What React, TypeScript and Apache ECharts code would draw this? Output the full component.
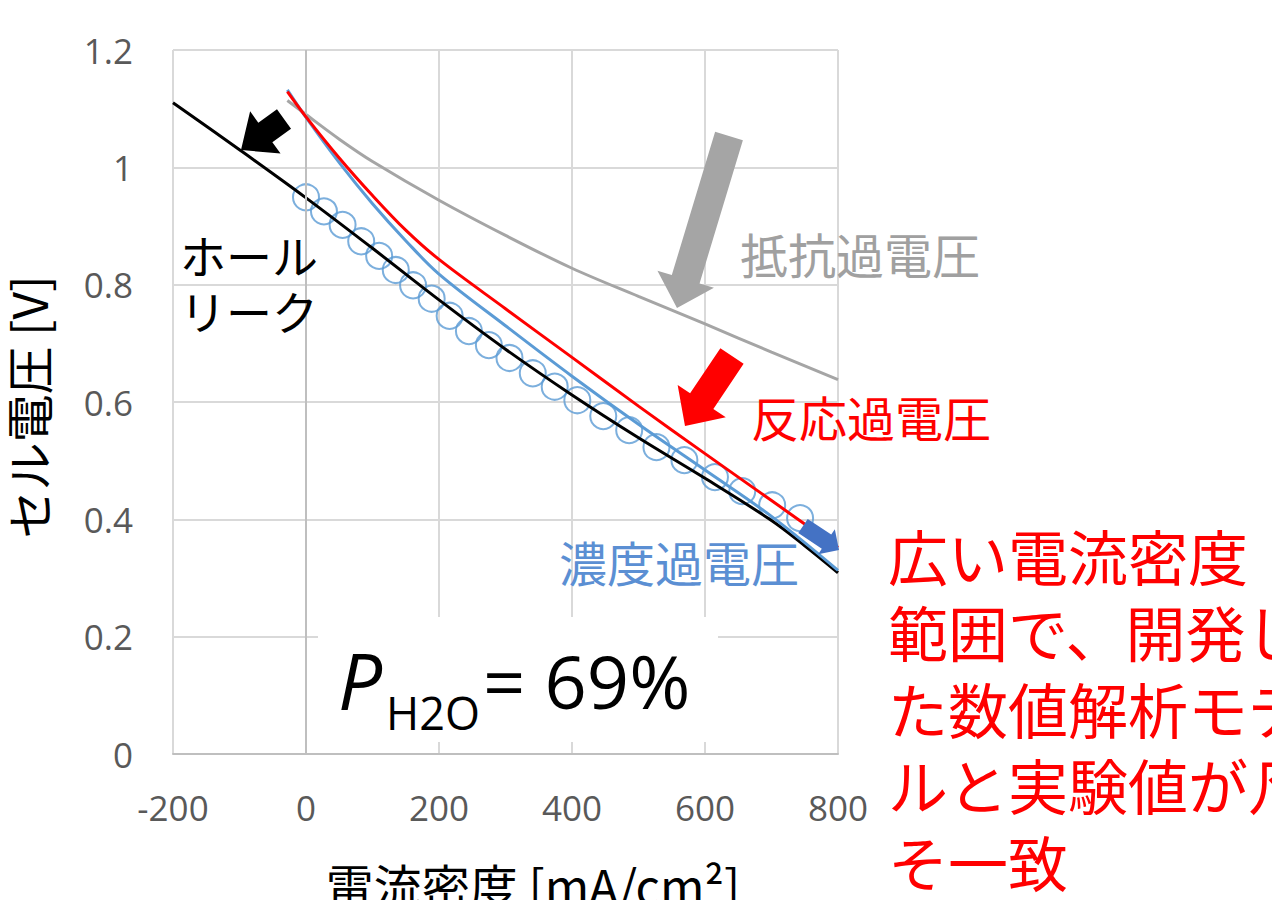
import React, { useEffect, useRef } from "react";
import * as echarts from "echarts";

// ---- Data (current density mA/cm², cell voltage V) ----
const measuredX = [0, 27, 55, 83, 110, 135, 161, 189, 216, 245, 275, 306, 341, 374, 408, 447, 486, 527, 569, 615, 656, 701, 743];
const measuredY = [0.949, 0.925, 0.902, 0.874, 0.849, 0.825, 0.799, 0.776, 0.747, 0.721, 0.697, 0.675, 0.649, 0.626, 0.603, 0.576, 0.552, 0.523, 0.501, 0.472, 0.448, 0.424, 0.402];

const holeLeakX = [-200, -100, 0, 100, 200, 300, 400, 500, 600, 700, 750, 800];
const holeLeakY = [1.11, 1.03, 0.948, 0.862, 0.774, 0.69, 0.612, 0.539, 0.47, 0.398, 0.355, 0.309];

const concX = [-28, 0, 50, 100, 150, 200, 300, 400, 500, 600, 700, 800];
const concY = [1.132, 1.085, 1.008, 0.938, 0.875, 0.818, 0.73, 0.644, 0.562, 0.484, 0.405, 0.313];

const reactX = [-28, 0, 50, 100, 150, 200, 300, 400, 500, 600, 700, 800];
const reactY = [1.129, 1.086, 1.016, 0.952, 0.893, 0.843, 0.759, 0.676, 0.593, 0.512, 0.432, 0.352];

const ohmX = [-28, 0, 50, 100, 200, 300, 400, 500, 600, 700, 800];
const ohmY = [1.114, 1.09, 1.048, 1.01, 0.944, 0.884, 0.828, 0.78, 0.733, 0.685, 0.638];

const zip = (xs: number[], ys: number[]) => xs.map((x, i) => [x, ys[i]]);

const CJK = '"Noto Sans CJK JP", "Noto Sans", sans-serif';
const LAT = '"Open Sans", "Noto Sans", sans-serif';

function arrowPoints(tail: number[], tip: number[], shaftW: number, headW: number, headL: number) {
  const dx = tip[0] - tail[0];
  const dy = tip[1] - tail[1];
  const L = Math.hypot(dx, dy);
  const ux = dx / L, uy = dy / L;
  const nx = -uy, ny = ux;
  const bx = tip[0] - ux * headL, by = tip[1] - uy * headL;
  return [
    [tail[0] + (nx * shaftW) / 2, tail[1] + (ny * shaftW) / 2],
    [bx + (nx * shaftW) / 2, by + (ny * shaftW) / 2],
    [bx + (nx * headW) / 2, by + (ny * headW) / 2],
    [tip[0], tip[1]],
    [bx - (nx * headW) / 2, by - (ny * headW) / 2],
    [bx - (nx * shaftW) / 2, by - (ny * shaftW) / 2],
    [tail[0] - (nx * shaftW) / 2, tail[1] - (ny * shaftW) / 2],
  ];
}

function txt(text: string, x: number, y: number, color: string, size: number, extra: any = {}) {
  return {
    type: "text",
    x,
    y,
    z: 20,
    silent: true,
    ...extra,
    style: {
      text,
      fill: color,
      fontSize: size,
      fontFamily: CJK,
      align: "left",
      verticalAlign: "middle",
      textAlign: "left",
      textVerticalAlign: "middle",
      ...(extra.style || {}),
    },
  };
}

export default function App() {
  const ref = useRef<HTMLDivElement>(null);
  useEffect(() => {
    if (!ref.current) return;
    const chart = echarts.init(ref.current, undefined, { renderer: "svg" });
    const lineBase = (name: string, data: number[][], color: string, z: number) => ({
      name,
      type: "line",
      data,
      showSymbol: false,
      smooth: 0.35,
      z,
      lineStyle: { color, width: 3 },
      emphasis: { disabled: true },
    });
    chart.setOption({
      animation: false,
      grid: { left: 173, right: 434, top: 50, bottom: 146 },
      xAxis: {
        type: "value",
        min: -200,
        max: 800,
        interval: 200,
        axisLine: { show: true, onZero: false, lineStyle: { color: "#BFBFBF", width: 2 } },
        axisTick: { show: false },
        axisLabel: { color: "#595959", fontSize: 35, fontFamily: LAT, margin: 36 },
        splitLine: { show: true, lineStyle: { color: "#D9D9D9", width: 2 } },
      },
      yAxis: {
        type: "value",
        min: 0,
        max: 1.2,
        interval: 0.2,
        axisLine: { show: false },
        axisTick: { show: false },
        axisLabel: {
          color: "#595959",
          fontSize: 35,
          fontFamily: LAT,
          margin: 40,
          formatter: (v: number) => String(+v.toFixed(1)),
        },
        splitLine: { show: true, lineStyle: { color: "#D9D9D9", width: 2 } },
      },
      series: [
        {
          name: "実験値",
          type: "scatter",
          data: zip(measuredX, measuredY),
          symbol: "circle",
          symbolSize: 26,
          z: 3,
          itemStyle: { color: "rgba(255,255,255,0)", borderColor: "#5B9BD5", borderWidth: 2 },
          markLine: {
            silent: true,
            symbol: "none",
            label: { show: false },
            lineStyle: { color: "#BFBFBF", width: 2, type: "solid" },
            data: [{ xAxis: 0 }],
          },
        },
        lineBase("ホールリーク", zip(holeLeakX, holeLeakY), "#000000", 4),
        lineBase("濃度過電圧", zip(concX, concY), "#5B9BD5", 5),
        lineBase("反応過電圧", zip(reactX, reactY), "#FF0000", 6),
        lineBase("抵抗過電圧", zip(ohmX, ohmY), "#A5A5A5", 4),
      ],
      graphic: [
        { type: "rect", z: 1, silent: true, shape: { x: 318, y: 617, width: 400, height: 125 }, style: { fill: "#FFFFFF" } },
        { type: "polygon", z: 15, silent: true, shape: { points: arrowPoints([284, 119], [241, 150], 24, 52, 30) }, style: { fill: "#000000" } },
        { type: "polygon", z: 15, silent: true, shape: { points: arrowPoints([729, 136], [677, 308], 29, 59, 30) }, style: { fill: "#A5A5A5" } },
        { type: "polygon", z: 15, silent: true, shape: { points: arrowPoints([732, 356], [685, 426], 28, 58, 30) }, style: { fill: "#FF0000" } },
        { type: "polygon", z: 15, silent: true, shape: { points: arrowPoints([803, 526], [839, 550], 17, 30, 15) }, style: { fill: "#4472C4" } },
        txt("抵抗過電圧", 740, 253, "#A0A0A0", 48),
        txt("反応過電圧", 751, 416, "#FF0000", 48),
        txt("濃度過電圧", 559, 561, "#5B8FD3", 48),
        txt("ホール\nリーク", 180, 226, "#000000", 46, {
          style: { lineHeight: 56, verticalAlign: "top", textVerticalAlign: "top" },
        }),
        txt("広い電流密度\n範囲で、開発し\nた数値解析モデ\nルと実験値が凡\nそ一致", 888, 516, "#FF0000", 60, {
          style: { lineHeight: 76.5, verticalAlign: "top", textVerticalAlign: "top" },
        }),
        txt("P", 338, 680, "#000000", 78, { style: { fontFamily: LAT, fontStyle: "italic" } }),
        txt("H2O", 386, 712, "#000000", 45, { style: { fontFamily: LAT } }),
        txt("= 69%", 483, 680, "#000000", 74, { style: { fontFamily: LAT } }),
        txt("セル電圧 [V]", 27, 407, "#000000", 48, {
          rotation: Math.PI / 2,
          style: { align: "center", textAlign: "center" },
        }),
        txt("電流密度 [mA/cm²]", 533, 884, "#000000", 48, {
          style: { align: "center", textAlign: "center" },
        }),
      ],
    });
    return () => chart.dispose();
  }, []);
  return (
    <div
      ref={ref}
      style={{ position: "absolute", left: 0, top: 0, width: 1272, height: 900, background: "#FFFFFF" }}
    />
  );
}
